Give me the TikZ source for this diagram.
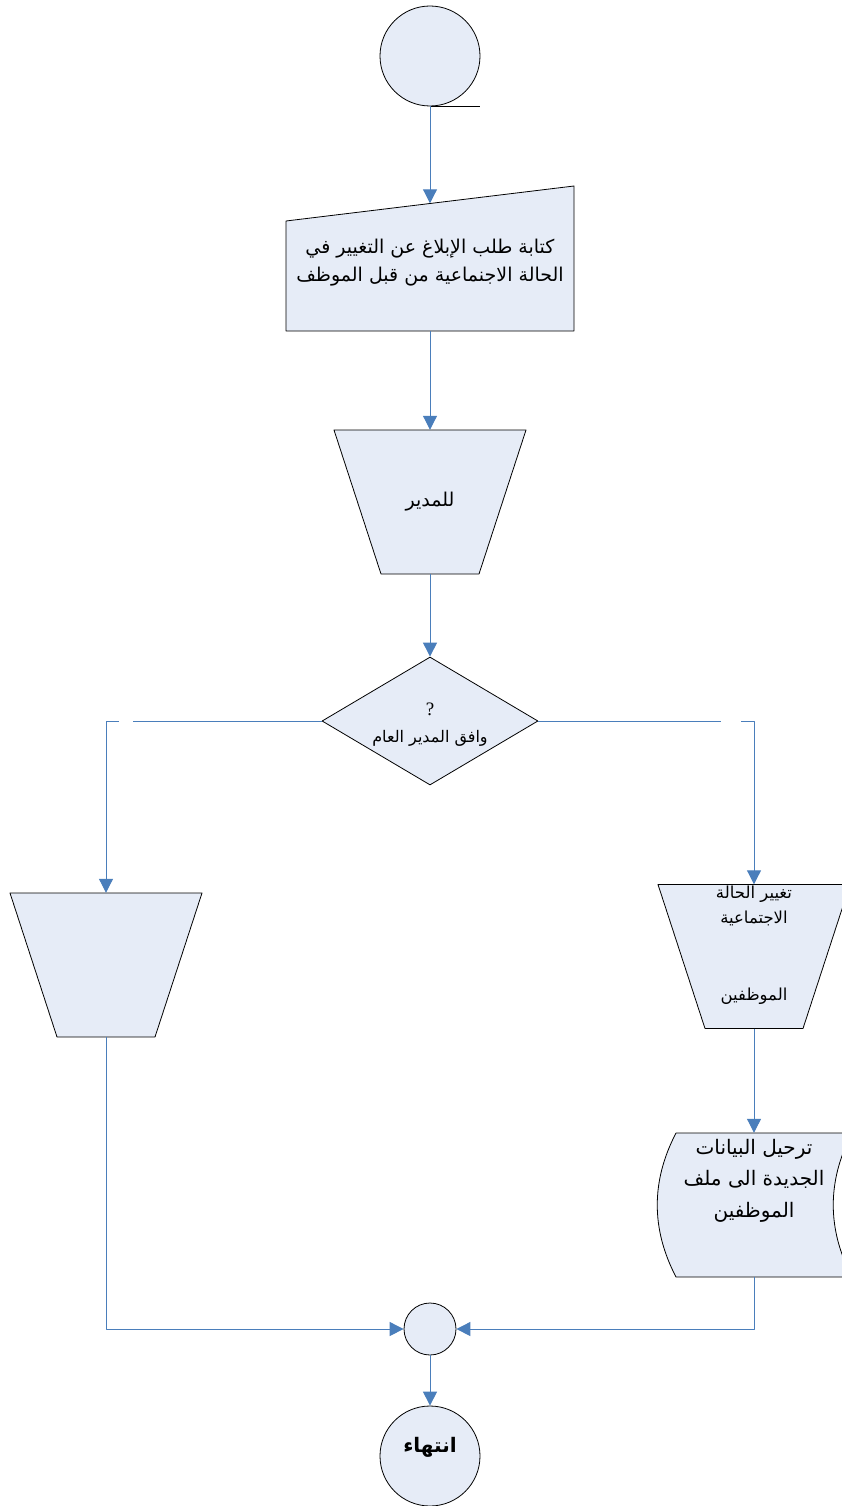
\documentclass[tikz,border=0pt]{standalone}
\usepackage{fontspec}
\usetikzlibrary{shapes.geometric,arrows.meta}
\newfontfamily\arabicfont[Script=Arabic]{DejaVu Sans}
\newfontfamily\qfont{Liberation Serif}
\TeXXeTstate=1
\definecolor{boxfill}{HTML}{E6ECF7}
\definecolor{flowblue}{HTML}{4A7EBB}
\begin{document}
\begin{tikzpicture}[x=1pt,y=-1pt,line join=round,
	box/.style={draw=black,fill=boxfill,line width=0.8pt},
	flow/.style={draw=flowblue,line width=1pt,-{Triangle[width=14pt,length=14pt]}},
	manop/.style={minimum width=192pt,minimum height=144pt,inner sep=0pt},
	txt/.style={font=\arabicfont\fontsize{19}{28}\selectfont,align=center},
	small/.style={font=\arabicfont\fontsize{16.5}{25.5}\selectfont,align=center},
	linegap/.style={fill=white,inner sep=0pt,minimum width=#1,minimum height=4pt}]
	\useasboundingbox (0,0) rectangle (842,1506);
	% shapes
	\node[box,circle,minimum size=100pt,inner sep=0pt] (start) at (430,56) {};
	\draw (start.south) -- ++(50,0);
	\draw[box] (286,221) -- (574,186) -- (574,331) -- (286,331) -- cycle;
	\node[txt,minimum width=288pt,minimum height=127.5pt,inner sep=0pt] (inp) at (430,267.25)
		{\beginR كتابة طلب الإبلاغ عن التغيير في\endR\\\beginR الحالة الاجنماعية من قبل الموظف\endR\\[-14pt]};
	\foreach \c in {(430,502),(106,965),(754,956.5)}
		\draw[box,shift={\c}] (-96,-72) -- (96,-72) -- (49,72) -- (-49,72) -- cycle;
	\node[manop,txt] (mgr) at (430,502) {\beginR للمدير\endR};
	\node[box,diamond,minimum width=216pt,minimum height=128pt,inner sep=0pt] (dec) at (430,721) {};
	\node[font=\qfont\fontsize{19}{20}\selectfont] (decq) at (430,709) {?};
	\node[small,font=\arabicfont\fontsize{16}{20}\selectfont] (dect) at (430,738) {\beginR وافق المدير العام\endR};
	\node[manop] (rej) at (106,965) {};
	\node[manop,small] (chg) at (754,956.5)
		{\beginR تغيير الحالة\endR\\\beginR الاجتماعية\endR\\[51pt]\beginR الموظفين\endR\\[2pt]};
	\draw[box] (676,1133) -- (852,1133) .. controls (827,1181) and (827,1229) .. (852,1277)
		-- (676,1277) .. controls (651,1229) and (651,1181) .. (676,1133) -- cycle;
	\node[txt,font=\arabicfont\fontsize{20}{31.5}\selectfont,minimum width=150pt,minimum height=144pt,inner sep=0pt] (upl) at (754,1205)
		{\beginR ترحيل البيانات\endR\\\beginR الجديدة الى ملف\endR\\\beginR الموظفين\endR\\[22pt]};
	\node[box,circle,minimum size=52pt,inner sep=0pt] (join) at (430,1329) {};
	\node[box,circle,minimum size=100pt,inner sep=0pt,font=\arabicfont\bfseries\fontsize{20}{20}\selectfont] (stop) at (430,1456)
		{\raisebox{22pt}{\beginR انتهاء\endR}};
	% connectors
	\draw[flow] (start) -- (inp);
	\draw[flow] (inp) -- (mgr);
	\draw[flow] (mgr) -- (dec);
	\draw[flow] (dec.west) -| node[linegap=14pt,pos=0.4526] (gapL) {} (rej.north);
	\draw[flow] (dec.east) -| node[linegap=20pt,pos=0.4456] (gapR) {} (chg.north);
	\draw[flow] (chg) -- (upl);
	\draw[flow] (rej.south) |- (join.west);
	\draw[flow] (upl.south) |- (join.east);
	\draw[flow] (join) -- (stop);
\end{tikzpicture}
\end{document}
